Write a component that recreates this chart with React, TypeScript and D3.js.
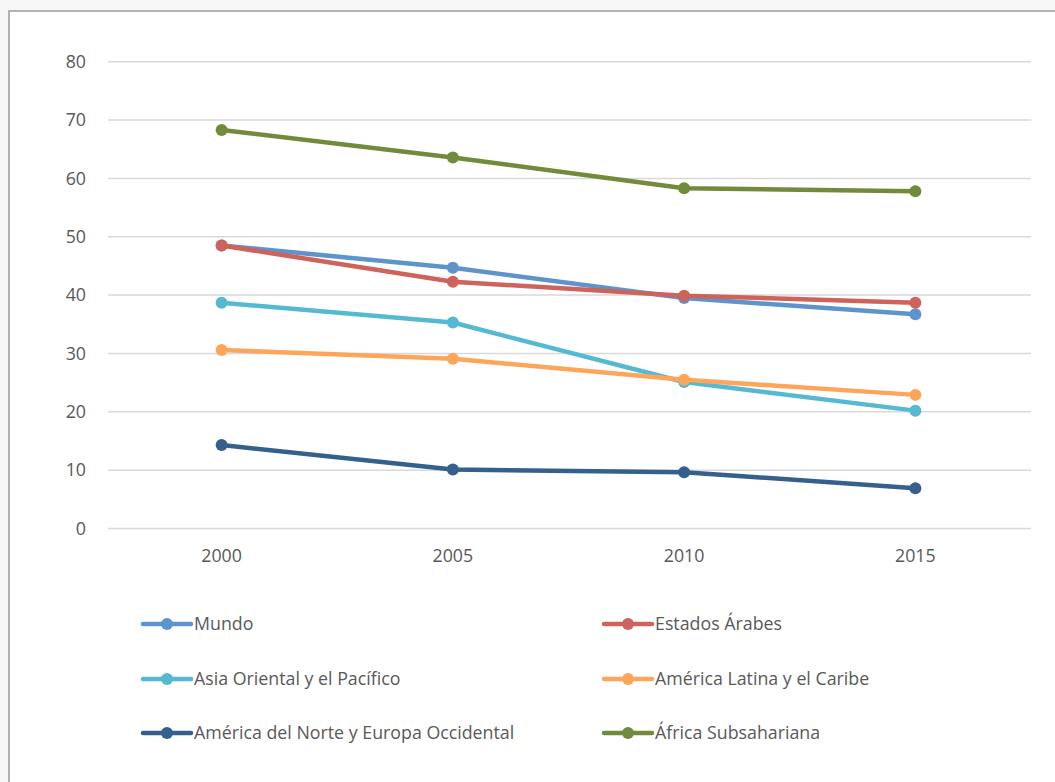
import React from "react";
import * as d3 from "d3";

const years = ["2000", "2005", "2010", "2015"];
const yTicks = [0, 10, 20, 30, 40, 50, 60, 70, 80];

const seriesNames = [
  "Mundo",
  "Estados Árabes",
  "Asia Oriental y el Pacífico",
  "América Latina y el Caribe",
  "América del Norte y Europa Occidental",
  "África Subsahariana",
];
const mundo = [48.5, 44.7, 39.5, 36.7];
const estadosArabes = [48.5, 42.3, 39.9, 38.7];
const asiaPacifico = [38.7, 35.3, 25.1, 20.2];
const americaLatina = [30.6, 29.1, 25.5, 22.9];
const norteEuropa = [14.3, 10.1, 9.65, 6.9];
const africaSub = [68.3, 63.6, 58.3, 57.8];
const seriesColors = ["#5E94CC", "#CD635A", "#56B9D2", "#FDA65A", "#355F8C", "#718B3A"];

const seriesValues = [mundo, estadosArabes, asiaPacifico, americaLatina, norteEuropa, africaSub];
const W = 1055;
const H = 782;

export default function App() {
  const x = d3.scaleBand<string>().domain(years).range([106, 1031]);
  const y = d3.scaleLinear().domain([0, 80]).range([528.5, 61.7]);
  const line = d3
    .line<number>()
    .x((_, i) => (x(years[i]) as number) + x.bandwidth() / 2)
    .y((d) => y(d));
  const font = "'Open Sans', 'Noto Sans', sans-serif";
  const textColor = "#595959";
  const fs = 17.8;

  const legendRows = [624, 679, 733];
  const legendCols = [143, 604];

  return (
    <svg
      width={W}
      height={H}
      style={{ position: "absolute", left: 0, top: 0, display: "block" }}
      fontFamily={font}
    >
      <rect x={0} y={0} width={W} height={H} fill="#f7f7f7" />
      <rect x={9} y={11} width={W} height={H} fill="#ffffff" stroke="#9a9a9a" strokeWidth={1.5} />
      {yTicks.map((t) => (
        <g key={t}>
          <line x1={108} x2={1031} y1={y(t)} y2={y(t)} stroke="#D9D9D9" strokeWidth={1.5} />
          <text x={86} y={y(t)} dy="0.35em" textAnchor="end" fontSize={fs} fill={textColor}>
            {t}
          </text>
        </g>
      ))}
      {years.map((yr) => (
        <text
          key={yr}
          x={(x(yr) as number) + x.bandwidth() / 2}
          y={556}
          dy="0.35em"
          textAnchor="middle"
          fontSize={fs}
          fill={textColor}
        >
          {yr}
        </text>
      ))}
      {seriesValues.map((vals, si) => (
        <g key={seriesNames[si]}>
          <path d={line(vals) || ""} fill="none" stroke={seriesColors[si]} strokeWidth={4.5} strokeLinejoin="round" />
          {vals.map((v, i) => (
            <circle
              key={i}
              cx={(x(years[i]) as number) + x.bandwidth() / 2}
              cy={y(v)}
              r={6}
              fill={seriesColors[si]}
            />
          ))}
        </g>
      ))}
      {seriesNames.map((name, si) => {
        const col = si % 2;
        const row = Math.floor(si / 2);
        const lx = legendCols[col];
        const ly = legendRows[row];
        return (
          <g key={name}>
            <line x1={lx} x2={lx + 48} y1={ly} y2={ly} stroke={seriesColors[si]} strokeWidth={4.5} strokeLinecap="round" />
            <circle cx={lx + 24} cy={ly} r={6} fill={seriesColors[si]} />
            <text x={lx + 51} y={ly} dy="0.35em" fontSize={fs} fill={textColor}>
              {name}
            </text>
          </g>
        );
      })}
    </svg>
  );
}
